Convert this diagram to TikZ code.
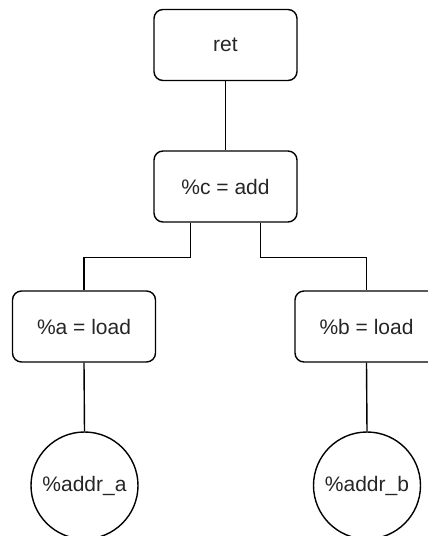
\documentclass[tikz,border=0pt]{standalone}
\usepackage{fontspec}
\setmainfont{Liberation Sans}
\begin{document}
\begin{tikzpicture}[x=1pt,y=-1pt,
  every node/.style={font=\fontsize{21}{25}\selectfont, text=black!85},
  op/.style={draw, line width=1.4pt, rounded corners=9pt, minimum width=143pt,
    minimum height=71pt, inner sep=0pt, anchor=center},
  leaf/.style={draw, line width=1.4pt, circle, minimum size=107pt, inner sep=0pt},
  wire/.style={line width=1.4pt}]
  \useasboundingbox (0,0) rectangle (428,536);
  \clip (0,0) rectangle (428,536);

  % instruction nodes
  \node[op] (ret) at (225.5,45) {ret};
  \node[op] (c) at (225.5,186.5) {\%c = add};
  \node[op] (a) at (84,326.5) {\%a = load};
  \node[op] (b) at (366.5,326.5) {\%b = load};

  % operand values
  \node[leaf] (addra) at (84.5,485.5) {\%addr\_a};
  \node[leaf] (addrb) at (367,485.5) {\%addr\_b};

  % data-flow edges
  \draw[wire] (ret.south) -- (c.north);
  \draw[wire] ([xshift=-35pt]c.south) -- ++(0,34.5) -| (a.north);
  \draw[wire] ([xshift=35pt]c.south) -- ++(0,34.5) -| (b.north);
  \draw[wire] (a.south) -- (addra.north);
  \draw[wire] (b.south) -- (addrb.north);
\end{tikzpicture}
\end{document}
